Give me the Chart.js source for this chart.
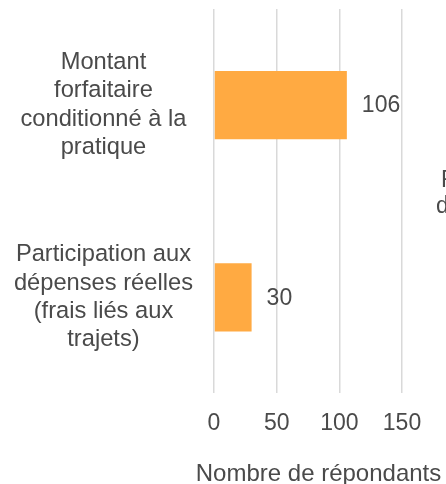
<!DOCTYPE html>
<html>
<head>
<meta charset="utf-8">
<script src="https://cdn.jsdelivr.net/npm/chart.js@4/dist/chart.umd.min.js"></script>
<style>
html,body{margin:0;padding:0;background:#fff;overflow:hidden;}
#wrap{width:446px;height:484px;position:relative;}
</style>
</head>
<body>
<div id="wrap"><canvas id="c" width="446" height="484"></canvas></div>
<script>
const categories = [
  ["Montant", "forfaitaire", "conditionné à la", "pratique"],
  ["Participation aux", "dépenses réelles", "(frais liés aux", "trajets)"]
];
const values = [106, 30];
const xTicks = [0, 50, 100, 150];
const axisTitle = "Nombre de répondants";
const cutText = ["Frais", "de"];

const FONT = "'Liberation Sans', Arial, sans-serif";
const TXT = "#4a4a4a";

const valueLabels = {
  id: 'valueLabels',
  afterDatasetsDraw(chart) {
    const ctx = chart.ctx;
    const meta = chart.getDatasetMeta(0);
    ctx.save();
    ctx.font = "23px " + FONT;
    ctx.fillStyle = TXT;
    ctx.textAlign = 'left';
    ctx.textBaseline = 'middle';
    meta.data.forEach((bar, i) => {
      ctx.fillText(String(values[i]), bar.x + 15, bar.y + 1);
    });
    // partially visible text cut at the right edge
    ctx.fillText(cutText[0], 441, 181);
    ctx.fillText(cutText[1], 436, 207);
    // x axis title (drawn without width squeeze)
    ctx.textAlign = 'center';
    ctx.font = "24px " + FONT;
    ctx.fillText(axisTitle, chart.chartArea.left + 104.5, 474);
    ctx.restore();
  }
};

new Chart(document.getElementById('c'), {
  type: 'bar',
  data: {
    labels: categories,
    datasets: [{
      data: values,
      backgroundColor: '#FFAA42',
      borderWidth: 0,
      categoryPercentage: 0.71,
      barPercentage: 0.5
    }]
  },
  plugins: [valueLabels],
  options: {
    indexAxis: 'y',
    responsive: false,
    animation: false,
    layout: { padding: { top: 9, right: 44, bottom: 31, left: 0 } },
    plugins: { legend: { display: false }, tooltip: { enabled: false } },
    scales: {
      x: {
        min: 0, max: 150,
        afterBuildTicks(scale) { scale.ticks = xTicks.map(v => ({ value: v })); },
        grid: { color: '#d9d9d9', lineWidth: 1.5, drawTicks: false },
        border: { display: false },
        ticks: { color: TXT, font: { size: 23, family: FONT }, padding: 16, maxRotation: 0 }
      },
      y: {
        grid: { display: false, drawTicks: false },
        border: { display: false },
        afterFit(scale) { scale.width = 214; scale.paddingTop = 0; scale.paddingBottom = 0; },
        ticks: { color: TXT, font: { size: 23.7, family: FONT, lineHeight: 1.2 }, padding: 21, crossAlign: 'center', autoSkip: false }
      }
    }
  }
});
</script>
</body>
</html>
